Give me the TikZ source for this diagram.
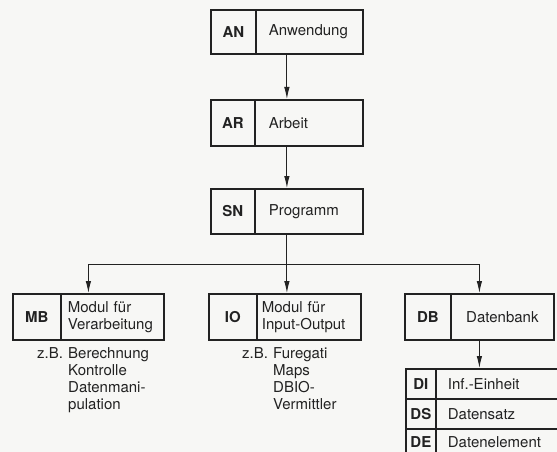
\documentclass[tikz,border=0pt]{standalone}
\usepackage{fontspec}
\setmainfont{TeX Gyre Heros}
\usetikzlibrary{arrows.meta,calc}
\definecolor{ink}{HTML}{222222}
\definecolor{paper}{HTML}{F7F7F5}
\begin{document}
\begin{tikzpicture}[x=1pt,y=-1pt,
  cellbox/.style={draw=ink, line width=1.8pt, inner sep=0pt, text=ink, anchor=north west,
     font=\fontsize{15}{16.8}\selectfont},
  labcell/.style={cellbox, font=\fontsize{15}{16.8}\selectfont\bfseries},
  txtcell/.style={cellbox, align=left},
  note/.style={anchor=north west, inner sep=0pt, text=ink, font=\fontsize{15}{16.8}\selectfont},
  arr/.style={draw=ink, line width=0.9pt, -{Latex[length=12pt,width=5.5pt]}}
]
\fill[paper] (0,0) rectangle (557,452);
\clip (0,0) rectangle (557,452);
% AN
\node[labcell, minimum width=45pt, minimum height=44pt] (anL) at (210,9) {AN};
\node[txtcell, minimum height=44pt, text width=81pt, inner xsep=13pt] (anT) at (255,9) {Anwendung};
% AR
\node[labcell, minimum width=44pt, minimum height=46pt] (arL) at (210,99) {AR};
\node[txtcell, minimum height=46pt, text width=80pt, inner xsep=14pt] (arT) at (254,99) {Arbeit};
% SN
\node[labcell, minimum width=44pt, minimum height=45pt] (snL) at (210,188) {SN};
\node[txtcell, minimum height=45pt, text width=80pt, inner xsep=14pt] (snT) at (254,188) {Programm};
% MB
\node[labcell, minimum width=48pt, minimum height=46pt] (mbL) at (12,293) {MB};
\node[txtcell, minimum height=46pt, text width=89pt, inner xsep=7pt] (mbT) at (60,293) {Modul für\\Verarbeitung};
% IO
\node[labcell, minimum width=48pt, minimum height=46pt] (ioL) at (208,293) {IO};
\node[txtcell, minimum height=46pt, text width=94pt, inner xsep=5pt] (ioT) at (256,293) {Modul für\\Input-Output};
% DB
\node[labcell, minimum width=46pt, minimum height=46pt] (dbL) at (404,293) {DB};
\node[txtcell, minimum width=103pt, minimum height=46pt] (dbT) at (450,293) {Datenbank};
% stack
\node[labcell, minimum width=30pt, minimum height=30pt] (diL) at (405,368) {DI};
\node[txtcell, minimum height=30pt, text width=108pt, inner xsep=12pt] (diT) at (435,368) {Inf.-Einheit};
\node[labcell, minimum width=30pt, minimum height=30pt] (dsL) at (405,398) {DS};
\node[txtcell, minimum height=30pt, text width=108pt, inner xsep=12pt] (dsT) at (435,398) {Datensatz};
\node[labcell, minimum width=30pt, minimum height=27pt] (deL) at (405,428) {DE};
\node[txtcell, minimum height=27pt, text width=108pt, inner xsep=12pt] (deT) at (435,428) {Datenelement};
% notes
\node[note] (mbnote) at (37,347) {\begin{tabular}{@{}p{31pt}@{}l@{}}z.B. & Berechnung\\ & Kontrolle\\ & Datenmani-\\ & pulation\end{tabular}};
\node[note] (ionote) at (242,347) {\begin{tabular}{@{}p{31pt}@{}l@{}}z.B. & Furegati\\ & Maps\\ & DBIO-\\ & Vermittler\end{tabular}};
% connectors
\coordinate (anB) at ($(anL.south west)!0.5!(anT.south east)$);
\coordinate (arTop) at ($(arL.north west)!0.5!(arT.north east)$);
\coordinate (arB) at ($(arL.south west)!0.5!(arT.south east)$);
\coordinate (snTop) at ($(snL.north west)!0.5!(snT.north east)$);
\coordinate (snB) at ($(snL.south west)!0.5!(snT.south east)$);
\coordinate (mbTop) at ($(mbL.north west)!0.5!(mbT.north east)$);
\coordinate (ioTop) at ($(ioL.north west)!0.5!(ioT.north east)$);
\coordinate (dbTop) at ($(dbL.north west)!0.5!(dbT.north east)$);
\coordinate (dbB) at ($(dbL.south west)!0.5!(dbT.south east)$);
\coordinate (diTop) at ($(diL.north west)!0.5!(diT.north east)$);
\coordinate (bus) at (0,264);
\draw[arr] (anB) -- (anB |- arTop);
\draw[arr] (arB) -- (arB |- snTop);
\draw[arr] (snB) -- (snB |- ioTop);
\draw[arr] (snB |- bus) -| (mbTop);
\draw[arr] (snB |- bus) -| (dbTop);
\draw[arr] (dbB) -- (dbB |- diTop);
\end{tikzpicture}
\end{document}
